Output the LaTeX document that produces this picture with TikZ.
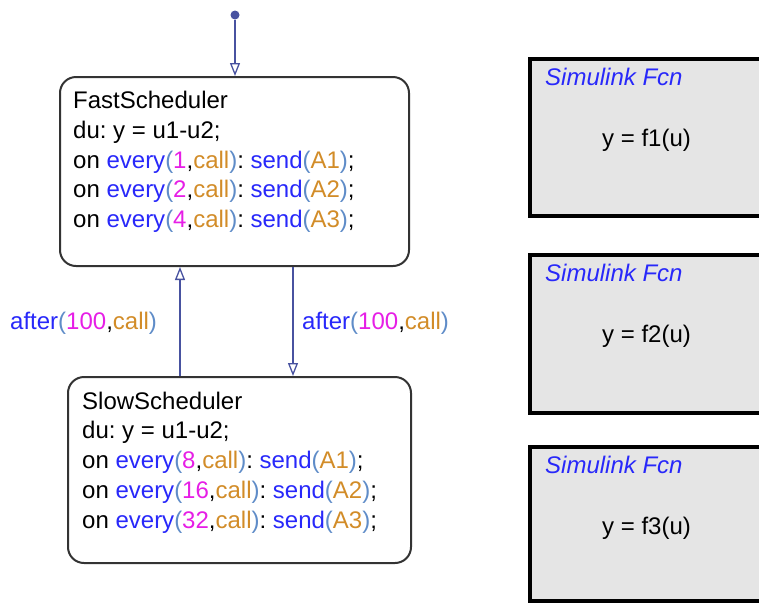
\documentclass[tikz,border=0pt]{standalone}
\usepackage{fontspec}
\setmainfont{Liberation Sans}
\usetikzlibrary{arrows.meta}
\definecolor{kwblue}{RGB}{40,40,250}
\definecolor{nummag}{RGB}{230,30,230}
\definecolor{argorg}{RGB}{210,140,40}
\definecolor{parblue}{RGB}{95,140,200}
\definecolor{trline}{RGB}{72,82,160}
\definecolor{fcngray}{RGB}{229,229,229}
\newcommand{\Kw}[1]{\textcolor{kwblue}{#1}}
\newcommand{\Nm}[1]{\textcolor{nummag}{#1}}
\newcommand{\Ca}[1]{\textcolor{argorg}{#1}}
\newcommand{\Pn}[1]{\textcolor{parblue}{#1}}
\newcommand{\OnEvery}[2]{on \Kw{every}\Pn{(}\Nm{#1},\Ca{call}\Pn{)}: \Kw{send}\Pn{(}\Ca{#2}\Pn{)};}
\newcommand{\After}{\Kw{after}\Pn{(}\Nm{100},\Ca{call}\Pn{)}}
\frenchspacing

\begin{document}
\begin{tikzpicture}[x=1pt,y=-1pt]
\tikzset{edge/.style = {draw=trline, line width=1.3pt, -{Triangle[open, length=13pt, width=10pt]}}}
\tikzset{state/.style = {draw=black!80, line width=2pt, rounded corners=16pt, inner sep=0pt}}
\tikzset{fcn/.style = {draw=black, line width=4.5pt, fill=fcngray}}
\tikzstyle{every node}=[font=\fontsize{24}{29}\selectfont, inner sep=0pt]
\useasboundingbox (0,0) rectangle (759,606);
% states
\node [state, minimum width=349pt, minimum height=189pt] at (234.5,171.5) (F) {};
\node [state, minimum width=343pt, minimum height=186pt] at (239.5,470) (S) {};
\node [anchor=base west] at (73,108.5) (F1) {FastScheduler};
\node [anchor=base west] at (73,138.3) (F2) {du: y = u1-u2;};
\node [anchor=base west] at (73,168.1) (F3) {\OnEvery{1}{A1}};
\node [anchor=base west] at (73,197.9) (F4) {\OnEvery{2}{A2}};
\node [anchor=base west] at (73,227.7) (F5) {\OnEvery{4}{A3}};
\node [anchor=base west] at (82,409) (S1) {SlowScheduler};
\node [anchor=base west] at (82,438.8) (S2) {du: y = u1-u2;};
\node [anchor=base west] at (82,468.6) (S3) {\OnEvery{8}{A1}};
\node [anchor=base west] at (82,498.4) (S4) {\OnEvery{16}{A2}};
\node [anchor=base west] at (82,528.2) (S5) {\OnEvery{32}{A3}};
% transitions
\node [circle, fill=trline, minimum size=9pt] at (235,15) (P) {};
\coordinate (U) at (180,0);
\coordinate (D) at (293,0);
\draw [edge] (P) -- (P |- F.north);
\draw [edge] (U |- S.north) -- (U |- F.south);
\draw [edge] (D |- F.south) -- (D |- S.north);
\node [anchor=base west] at (10,329) (L) {\After};
\node [anchor=base west] at (302,329) (R) {\After};
% simulink functions
\draw [fcn] (530,59) rectangle (775,216);
\draw [fcn] (530,255) rectangle (775,413);
\draw [fcn] (530,447) rectangle (775,601);
\foreach \i/\t in {1/57, 2/253, 3/445} {
  \node [anchor=base west, font=\fontsize{24}{29}\selectfont\itshape, text=kwblue] at (545,\t+28) (H\i) {Simulink Fcn};
  \node [anchor=base west] at (602,\t+89) (G\i) {y = f\i(u)};
}
\end{tikzpicture}
\end{document}
